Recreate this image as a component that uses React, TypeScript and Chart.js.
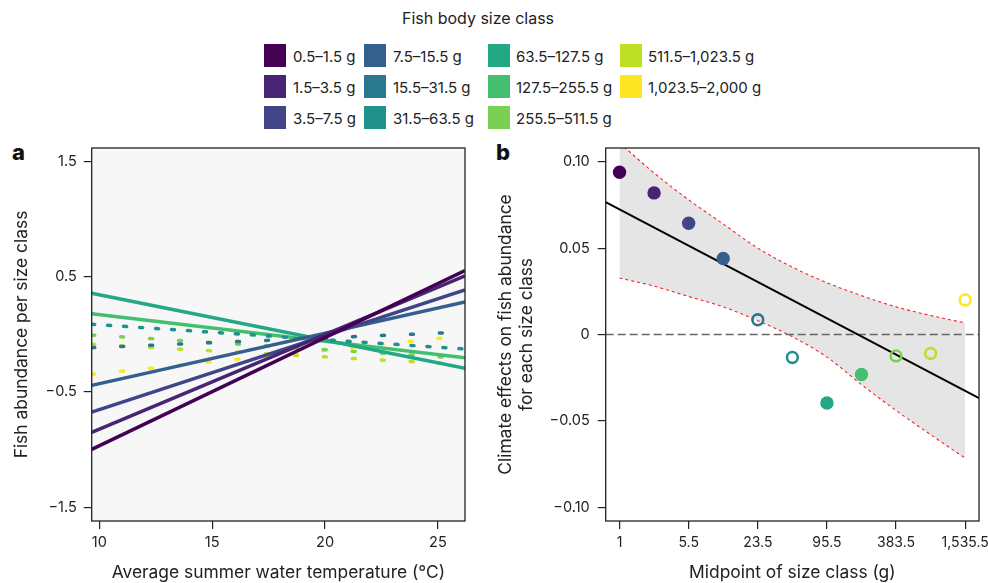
import React, { useEffect, useRef } from "react";
import { Chart, registerables } from "chart.js";

Chart.register(...registerables);

// ---------- shared data ----------
const sizeClasses = [
  "0.5–1.5 g",
  "1.5–3.5 g",
  "3.5–7.5 g",
  "7.5–15.5 g",
  "15.5–31.5 g",
  "31.5–63.5 g",
  "63.5–127.5 g",
  "127.5–255.5 g",
  "255.5–511.5 g",
  "511.5–1,023.5 g",
  "1,023.5–2,000 g",
];
const classColors = [
  "#440154",
  "#482475",
  "#414487",
  "#355f8d",
  "#2a788e",
  "#21918c",
  "#22a884",
  "#44bf70",
  "#7ad151",
  "#bddf26",
  "#fde725",
];
const significant = [true, true, true, true, false, false, true, true, false, false, false];

// ---------- panel a data ----------
const tempRange = [9.66, 26.2];
const abundanceAtMinTemp = [-0.998, -0.85, -0.674, -0.442, -0.115, 0.089, 0.358, 0.181, -0.004, -0.085, -0.346];
const abundanceAtMaxTemp = [0.555, 0.509, 0.387, 0.283, 0.022, -0.126, -0.294, -0.202, -0.207, -0.261, -0.01];
const tempTicks = [10, 15, 20, 25];
const abundanceTicks = [1.5, 0.5, -0.5, -1.5];

// ---------- panel b data ----------
const midpointLabels = ["1", "2.5", "5.5", "11.5", "23.5", "47.5", "95.5", "191.5", "383.5", "767.5", "1,535.5"];
const midpointTickIndex = [0, 2, 4, 6, 8, 10];
const climateEffects = [0.094, 0.082, 0.0644, 0.044, 0.0085, -0.0133, -0.0397, -0.0232, -0.0124, -0.011, 0.02];
const ciUpper = [0.111, 0.0935, 0.078, 0.064, 0.05, 0.039, 0.03, 0.0225, 0.016, 0.011, 0.0067];
const ciLower = [0.0327, 0.028, 0.022, 0.016, 0.008, -0.0013, -0.0131, -0.029, -0.044, -0.058, -0.0716];
const fitRange = [-0.4, 10.4];
const fitValues = [0.0767, -0.0368];
const effectTicks = [0.1, 0.05, 0, -0.05, -0.1];

const FONT = "Inter, 'Noto Sans', sans-serif";
const TEXT = "#222";
const TICK_SIZE = 14.5;
const TITLE_SIZE = 17.4;

const minus = (s: string) => s.replace("-", "\u2212");

function boxPlugin(bg: string | null) {
  return {
    id: "box" + (bg ? "bg" : ""),
    beforeDatasetsDraw(chart: any) {
      if (!bg) return;
      const { ctx, chartArea: a } = chart;
      ctx.save();
      ctx.fillStyle = bg;
      ctx.fillRect(a.left, a.top, a.right - a.left, a.bottom - a.top);
      ctx.restore();
    },
    afterDatasetsDraw(chart: any) {
      const { ctx, chartArea: a } = chart;
      ctx.save();
      ctx.strokeStyle = "#222";
      ctx.lineWidth = 1.3;
      ctx.strokeRect(a.left, a.top, a.right - a.left, a.bottom - a.top);
      ctx.restore();
    },
  };
}

const gridOpts = {
  display: true,
  drawOnChartArea: false,
  drawTicks: true,
  tickLength: 8,
  color: "#222",
  lineWidth: 1.2,
};

const fixX = (s: any) => {
  s.height = 62;
  s.paddingLeft = 0;
  s.paddingRight = 0;
};

function PanelA() {
  const ref = useRef<HTMLCanvasElement>(null);
  useEffect(() => {
    const datasets = sizeClasses.map((name, i) => ({
      label: name,
      data: [
        { x: tempRange[0], y: abundanceAtMinTemp[i] },
        { x: tempRange[1], y: abundanceAtMaxTemp[i] },
      ],
      borderColor: classColors[i],
      borderWidth: 3.5,
      borderDash: significant[i] ? [] : i === 5 ? [3, 13] : [3, 26],
      borderCapStyle: significant[i] ? "butt" : "round",
      pointRadius: 0,
      fill: false,
    }));
    const chart = new Chart(ref.current!, {
      type: "line",
      data: { datasets: datasets as any },
      plugins: [boxPlugin("#f7f7f7")],
      options: {
        animation: false,
        responsive: false,
        layout: { padding: { top: 18, right: 15, left: 0, bottom: 0 } },
        plugins: { legend: { display: false }, tooltip: { enabled: false } },
        scales: {
          x: {
            type: "linear",
            min: tempRange[0],
            max: tempRange[1],
            grid: gridOpts as any,
            border: { display: false },
            afterBuildTicks: (s: any) => {
              s.ticks = tempTicks.map((v) => ({ value: v }));
            },
            afterFit: fixX,
            ticks: {
              padding: 5,
              maxRotation: 0,
              color: TEXT,
              font: { family: FONT, size: TICK_SIZE },
              callback: (v: any) => String(v),
            },
            title: {
              display: true,
              text: "Average summer water temperature (°C)",
              color: TEXT,
              font: { family: FONT, size: TITLE_SIZE },
              padding: { top: 0, bottom: 0 },
            },
          },
          y: {
            type: "linear",
            min: -1.62,
            max: 1.62,
            grid: gridOpts as any,
            border: { display: false },
            afterBuildTicks: (s: any) => {
              s.ticks = abundanceTicks.map((v) => ({ value: v }));
            },
            afterFit: (s: any) => {
              s.width = 91.7;
            },
            ticks: {
              padding: 7,
              color: TEXT,
              font: { family: FONT, size: TICK_SIZE },
              callback: (v: any) => minus(Number(v).toFixed(1)),
            },
            title: {
              display: true,
              text: "Fish abundance per size class",
              color: TEXT,
              font: { family: FONT, size: TITLE_SIZE },
              padding: { top: 11.5, bottom: 0 },
            },
          },
        },
      },
    });
    return () => chart.destroy();
  }, []);
  return <canvas ref={ref} width={480} height={453} style={{ position: "absolute", left: 0, top: 130, width: 480, height: 453 }} />;
}

function PanelB() {
  const ref = useRef<HTMLCanvasElement>(null);
  useEffect(() => {
    const idx = climateEffects.map((_, i) => i);
    const chart = new Chart(ref.current!, {
      type: "line",
      data: {
        datasets: [
          {
            label: "effects",
            data: idx.map((i) => ({ x: i, y: climateEffects[i] })),
            showLine: false,
            pointRadius: idx.map((i) => (significant[i] ? 6.7 : 5.4)),
            pointBorderWidth: idx.map((i) => (significant[i] ? 0 : 2.6)),
            pointBackgroundColor: idx.map((i) => (significant[i] ? classColors[i] : "rgba(0,0,0,0)")),
            pointBorderColor: idx.map((i) => classColors[i]),
          },
          {
            label: "fit",
            data: [
              { x: fitRange[0], y: fitValues[0] },
              { x: fitRange[1], y: fitValues[1] },
            ],
            borderColor: "#000",
            borderWidth: 2,
            pointRadius: 0,
          },
          {
            label: "zero",
            data: [
              { x: fitRange[0], y: 0 },
              { x: fitRange[1], y: 0 },
            ],
            borderColor: "#666",
            borderWidth: 1.5,
            borderDash: [8, 4],
            pointRadius: 0,
          },
          {
            label: "lower",
            data: idx.map((i) => ({ x: i, y: ciLower[i] })),
            borderColor: "#ff2020",
            borderWidth: 1.1,
            borderDash: [3, 3],
            pointRadius: 0,
            cubicInterpolationMode: "monotone",
          },
          {
            label: "upper",
            data: idx.map((i) => ({ x: i, y: ciUpper[i] })),
            borderColor: "#ff2020",
            borderWidth: 1.1,
            borderDash: [3, 3],
            pointRadius: 0,
            cubicInterpolationMode: "monotone",
            fill: "-1",
            backgroundColor: "#e5e5e5",
          },
        ] as any,
      },
      plugins: [boxPlugin(null)],
      options: {
        animation: false,
        responsive: false,
        layout: { padding: { top: 18, right: 9, left: 0, bottom: 0 } },
        plugins: { legend: { display: false }, tooltip: { enabled: false } },
        scales: {
          x: {
            type: "linear",
            min: fitRange[0],
            max: fitRange[1],
            grid: gridOpts as any,
            border: { display: false },
            afterBuildTicks: (s: any) => {
              s.ticks = midpointTickIndex.map((v) => ({ value: v }));
            },
            afterFit: fixX,
            ticks: {
              padding: 5,
              maxRotation: 0,
              color: TEXT,
              font: { family: FONT, size: 14 },
              callback: (v: any) => midpointLabels[Math.round(Number(v))],
            },
            title: {
              display: true,
              text: "Midpoint of size class (g)",
              color: TEXT,
              font: { family: FONT, size: TITLE_SIZE },
              padding: { top: 0, bottom: 0 },
            },
          },
          y: {
            type: "linear",
            min: -0.108,
            max: 0.108,
            grid: gridOpts as any,
            border: { display: false },
            afterBuildTicks: (s: any) => {
              s.ticks = effectTicks.map((v) => ({ value: v }));
            },
            afterFit: (s: any) => {
              s.width = 125.7;
            },
            ticks: {
              padding: 8,
              color: TEXT,
              font: { family: FONT, size: TICK_SIZE },
              callback: (v: any) => (Number(v) === 0 ? "0" : minus(Number(v).toFixed(2))),
            },
            title: {
              display: true,
              text: ["Climate effects on fish abundance", "for each size class"],
              color: TEXT,
              font: { family: FONT, size: TITLE_SIZE, lineHeight: 1.18 },
              padding: { top: 15.7, bottom: 0 },
            },
          },
        },
      },
    });
    return () => chart.destroy();
  }, []);
  return <canvas ref={ref} width={508} height={453} style={{ position: "absolute", left: 480, top: 130, width: 508, height: 453 }} />;
}

const legendCols = [
  { sq: 264, tx: 293 },
  { sq: 364, tx: 393 },
  { sq: 488, tx: 516 },
  { sq: 620, tx: 648 },
];
const legendRows = [44, 75, 106];

function Legend() {
  return (
    <>
      <div
        style={{
          position: "absolute",
          left: 0,
          width: 956,
          top: 8,
          textAlign: "center",
          fontFamily: FONT,
          fontSize: 16,
          lineHeight: "21px",
          color: TEXT,
        }}
      >
        Fish body size class
      </div>
      {sizeClasses.map((name, i) => {
        const col = legendCols[Math.floor(i / 3)];
        const top = legendRows[i % 3];
        return (
          <React.Fragment key={name}>
            <div style={{ position: "absolute", left: col.sq, top, width: 22, height: 23, background: classColors[i] }} />
            <div
              style={{
                position: "absolute",
                left: col.tx,
                top: top + 1,
                height: 23,
                lineHeight: "23px",
                fontFamily: FONT,
                fontSize: 15,
                color: TEXT,
                whiteSpace: "nowrap",
              }}
            >
              {name}
            </div>
          </React.Fragment>
        );
      })}
    </>
  );
}

export default function App() {
  return (
    <div style={{ position: "absolute", left: 0, top: 0, width: 988, height: 583, background: "#fff", overflow: "hidden" }}>
      <Legend />
      <div style={{ position: "absolute", left: 12, top: 141, fontFamily: FONT, fontWeight: 800, fontSize: 22, lineHeight: "22px", color: "#111" }}>a</div>
      <div style={{ position: "absolute", left: 496, top: 141, fontFamily: FONT, fontWeight: 800, fontSize: 22, lineHeight: "22px", color: "#111" }}>b</div>
      <PanelA />
      <PanelB />
    </div>
  );
}
